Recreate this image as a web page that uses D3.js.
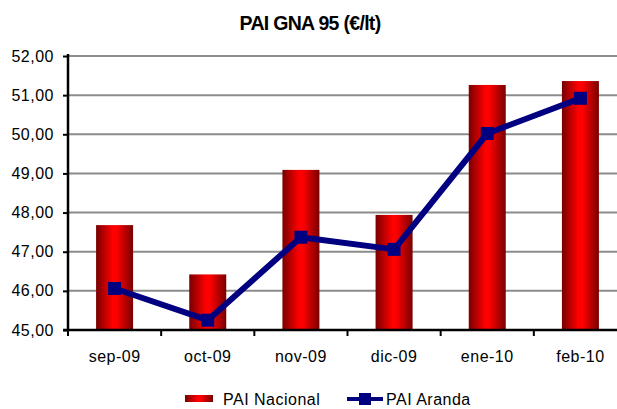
<!DOCTYPE html>
<html><head><meta charset="utf-8">
<script src="https://cdn.jsdelivr.net/npm/d3@7"></script>
<style>body{margin:0;background:#fff;overflow:hidden}svg{display:block}text{font-family:"Liberation Sans",Arial,sans-serif}</style>
</head><body><svg id="c" width="617" height="409"></svg>
<script>
const categories = ["sep-09","oct-09","nov-09","dic-09","ene-10","feb-10"];
const nacional = [47.68, 46.42, 49.09, 47.94, 51.26, 51.36];
const aranda = [46.06, 45.25, 47.37, 47.06, 50.02, 50.92];
const yTicks = [45,46,47,48,49,50,51,52];
const seriesNames = ["PAI Nacional","PAI Aranda"];
const title = "PAI GNA 95 (€/lt)";

const FONT = "Liberation Sans, Arial, sans-serif";
const svg = d3.select("#c");
const L = 68, R = 627, T = 56, B = 330;
const x = d3.scaleBand().domain(categories).range([L, R]);
const y = d3.scaleLinear().domain([45, 52]).range([B, T]);

const defs = svg.append("defs");
const g = defs.append("linearGradient").attr("id","bar").attr("x1","0").attr("x2","1").attr("y1","0").attr("y2","0");
g.append("stop").attr("offset","0").attr("stop-color","#780000");
g.append("stop").attr("offset","0.45").attr("stop-color","#ff0000");
g.append("stop").attr("offset","0.55").attr("stop-color","#ff0000");
g.append("stop").attr("offset","1").attr("stop-color","#780000");

svg.append("text").attr("x",310).attr("y",30).attr("text-anchor","middle")
  .attr("font-size",19.5).attr("font-weight","bold").attr("letter-spacing","-0.7").text(title);

// gridlines
svg.append("g").selectAll("line").data(yTicks.filter(d=>d>45)).join("line")
  .attr("x1",L).attr("x2",R).attr("y1",d=>y(d)).attr("y2",d=>y(d))
  .attr("stroke","#8c8c8c").attr("stroke-width",2);

// y axis
const ya = svg.append("g").attr("transform",`translate(${L},0)`)
  .call(d3.axisLeft(y).tickValues(yTicks).tickSize(5).tickFormat(d=>d3.format(".2f")(d).replace(".",",")));
ya.select(".domain").attr("stroke","#000").attr("stroke-width",2.5).attr("d",`M0,${T-2}V${B}`);
ya.selectAll(".tick line").attr("stroke","#000").attr("stroke-width",2);
ya.selectAll(".tick text").attr("font-size",16).attr("letter-spacing","0.5").attr("fill","#000").attr("x",-14).attr("font-family",FONT);

// bars
const bw = 37;
svg.append("g").selectAll("rect").data(nacional).join("rect")
  .attr("x",(d,i)=>x(categories[i])+x.bandwidth()/2-bw/2).attr("width",bw)
  .attr("y",d=>y(d)).attr("height",d=>B-y(d)).attr("fill","url(#bar)");

// x axis
const xa = svg.append("g").attr("transform",`translate(0,${B})`)
  .call(d3.axisBottom(x).tickSize(0).tickPadding(21));
xa.select(".domain").attr("stroke","#000").attr("stroke-width",2.5).attr("d",`M${L-5},0H${R}`);
xa.selectAll(".tick text").attr("font-size",16).attr("letter-spacing","0.5").attr("fill","#000").attr("font-family",FONT);
svg.append("g").selectAll("line").data(categories).join("line")
  .attr("x1",d=>x(d)).attr("x2",d=>x(d)).attr("y1",B).attr("y2",B+6)
  .attr("stroke","#000").attr("stroke-width",2);

// line
const line = d3.line().x((d,i)=>x(categories[i])+x.bandwidth()/2).y(d=>y(d));
svg.append("path").datum(aranda).attr("d",line).attr("fill","none").attr("stroke","#000080").attr("stroke-width",6).attr("stroke-linejoin","round");
svg.append("g").selectAll("rect").data(aranda).join("rect")
  .attr("x",(d,i)=>x(categories[i])+x.bandwidth()/2-6.5).attr("y",d=>y(d)-6.5)
  .attr("width",13).attr("height",13).attr("fill","#000080");

// legend
const lg = svg.append("g");
lg.append("rect").attr("x",185).attr("y",395).attr("width",28).attr("height",7).attr("fill","url(#bar)");
lg.append("text").attr("x",223).attr("y",404.5).attr("font-size",16).attr("letter-spacing","0.5").text(seriesNames[0]);
lg.append("line").attr("x1",347).attr("x2",383).attr("y1",399).attr("y2",399).attr("stroke","#000080").attr("stroke-width",4);
lg.append("rect").attr("x",359).attr("y",393).attr("width",12).attr("height",12).attr("fill","#000080");
lg.append("text").attr("x",386).attr("y",404.5).attr("font-size",16).attr("letter-spacing","0.5").text(seriesNames[1]);
</script></body></html>
